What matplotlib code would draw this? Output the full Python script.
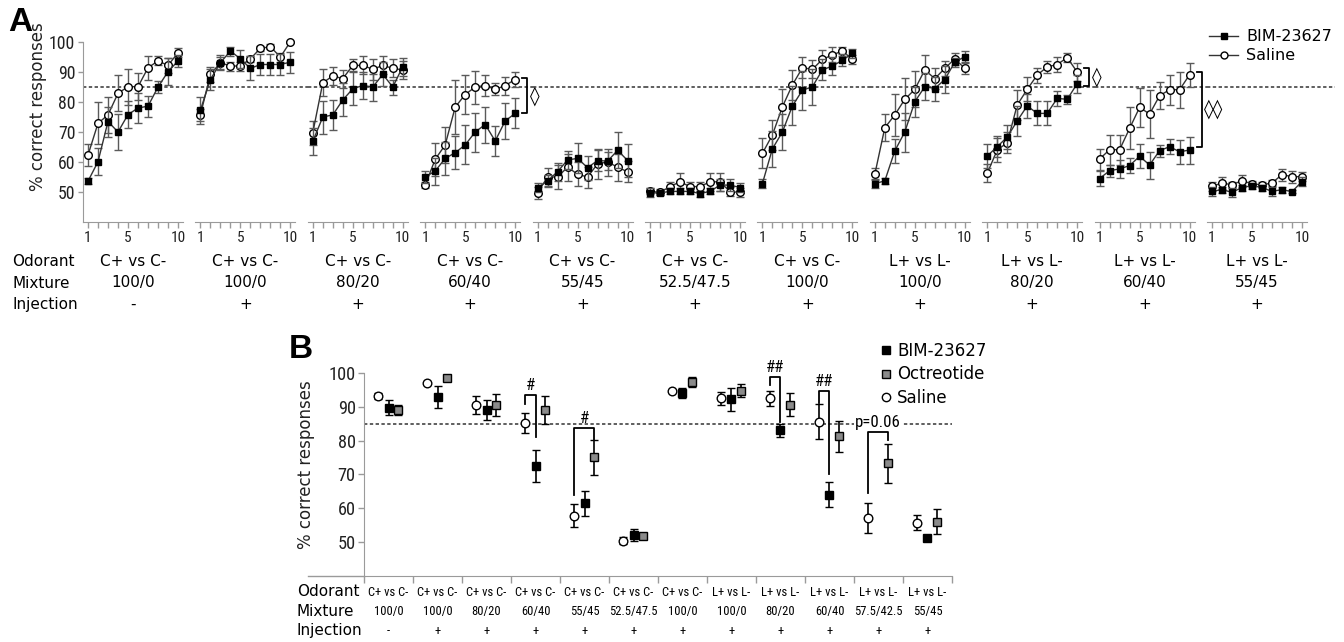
import os
import numpy as np
import matplotlib
matplotlib.use("Agg")
import matplotlib.pyplot as plt
import matplotlib.collections as mcoll
from matplotlib import font_manager
from matplotlib.font_manager import FontProperties
from matplotlib.lines import Line2D

# ---------------------------------------------------------------- data: panel A
sessions = [1, 2, 3, 4, 5, 6, 7, 8, 9, 10]
a_odorant = ["C+ vs C-"] * 7 + ["L+ vs L-"] * 4
a_mixture = ["100/0", "100/0", "80/20", "60/40", "55/45", "52.5/47.5",
             "100/0", "100/0", "80/20", "60/40", "55/45"]
a_injection = ["-", "+", "+", "+", "+", "+", "+", "+", "+", "+", "+"]

sal_1 = [62.2, 72.8, 75.6, 82.8, 85.0, 85.0, 91.3, 93.6, 92.1, 96.3]
sal_1e = [3.7, 7.0, 6.0, 6.0, 6.0, 4.5, 4.0, 1.5, 2.5, 1.5]
bim_1 = [53.5, 60.0, 73.4, 69.9, 75.7, 77.9, 78.5, 84.9, 90.0, 93.6]
bim_1e = [1.0, 4.5, 5.0, 6.0, 4.5, 5.0, 3.5, 2.0, 4.5, 2.0]

sal_2 = [75.6, 89.1, 93.0, 91.9, 91.9, 94.3, 97.8, 98.3, 94.9, 100.0]
sal_2e = [2.0, 2.5, 2.0, 1.5, 1.5, 1.0, 0.8, 0.8, 1.5, 0.3]
bim_2 = [77.2, 87.4, 93.0, 96.9, 94.3, 91.1, 92.4, 92.4, 92.4, 93.2]
bim_2e = [4.5, 3.5, 2.5, 1.5, 3.0, 4.0, 3.5, 3.5, 3.5, 3.5]

sal_3 = [69.7, 86.3, 88.6, 87.7, 92.1, 92.1, 90.8, 92.1, 91.1, 90.6]
sal_3e = [4.0, 4.5, 3.0, 3.0, 2.0, 3.0, 3.5, 3.0, 3.0, 3.0]
bim_3 = [66.8, 74.9, 75.6, 80.6, 84.3, 85.4, 84.9, 89.1, 84.9, 91.7]
bim_3e = [4.5, 5.5, 5.0, 5.5, 5.5, 4.5, 4.5, 4.0, 2.5, 3.0]

sal_4 = [52.2, 60.8, 65.6, 78.2, 82.4, 84.9, 85.4, 84.1, 85.4, 87.4]
sal_4e = [1.0, 5.5, 6.0, 9.0, 6.5, 5.5, 3.5, 2.0, 3.0, 2.5]
bim_4 = [54.9, 56.9, 61.1, 63.0, 65.6, 69.9, 72.4, 66.9, 73.6, 76.1]
bim_4e = [2.0, 4.5, 5.5, 5.5, 6.5, 6.5, 6.0, 5.0, 6.0, 5.0]

sal_5 = [49.7, 54.9, 54.9, 58.2, 55.8, 54.9, 59.3, 59.9, 58.2, 56.6]
sal_5e = [2.0, 3.0, 4.0, 4.5, 4.0, 3.5, 5.0, 4.5, 4.5, 3.5]
bim_5 = [51.3, 53.6, 56.7, 60.6, 61.1, 58.0, 60.4, 60.2, 63.8, 60.4]
bim_5e = [1.5, 2.0, 3.0, 3.0, 5.0, 4.0, 3.5, 3.0, 6.0, 5.5]

sal_6 = [50.1, 49.8, 51.7, 53.3, 51.7, 51.7, 53.3, 53.3, 50.0, 49.8]
sal_6e = [1.0, 1.0, 1.5, 3.0, 1.5, 1.5, 3.0, 3.0, 1.5, 1.5]
bim_6 = [49.6, 49.6, 50.1, 50.1, 50.1, 49.4, 50.1, 52.2, 52.2, 51.4]
bim_6e = [1.5, 0.8, 1.0, 1.0, 1.0, 1.0, 1.0, 2.0, 2.0, 1.5]

sal_7 = [62.8, 68.9, 78.3, 85.6, 91.3, 90.8, 94.1, 95.6, 96.9, 94.1]
sal_7e = [5.0, 5.0, 6.0, 5.0, 3.5, 3.0, 3.0, 2.5, 1.5, 1.5]
bim_7 = [52.7, 64.3, 69.9, 78.6, 83.8, 85.0, 90.6, 91.9, 93.8, 96.1]
bim_7e = [1.5, 6.0, 6.0, 6.5, 6.5, 6.0, 3.5, 3.0, 2.0, 1.5]

sal_8 = [55.8, 71.3, 75.6, 80.8, 84.1, 90.6, 87.7, 91.1, 94.3, 91.1]
sal_8e = [2.0, 4.5, 7.0, 7.0, 6.0, 5.0, 3.5, 2.5, 2.0, 2.0]
bim_8 = [52.7, 53.6, 63.6, 69.9, 80.0, 85.0, 84.4, 87.4, 93.2, 95.0]
bim_8e = [1.5, 1.0, 4.0, 6.5, 5.0, 4.5, 4.0, 4.5, 1.5, 2.0]

sal_9 = [56.1, 63.9, 66.3, 78.9, 84.1, 88.9, 91.6, 92.4, 94.7, 89.9]
sal_9e = [3.0, 4.0, 3.5, 5.0, 4.0, 2.5, 2.0, 2.5, 1.5, 3.0]
bim_9 = [61.9, 65.0, 68.2, 73.6, 78.6, 76.1, 76.1, 81.1, 80.8, 86.0]
bim_9e = [4.0, 3.5, 4.0, 5.0, 4.0, 4.0, 4.0, 2.5, 1.5, 3.0]

sal_10 = [60.9, 64.0, 64.0, 71.1, 78.1, 75.9, 82.0, 84.0, 84.0, 89.0]
sal_10e = [3.5, 5.0, 5.0, 7.0, 6.5, 8.0, 4.5, 5.0, 6.0, 4.0]
bim_10 = [54.4, 57.0, 57.6, 58.7, 61.8, 58.9, 63.7, 65.0, 63.3, 63.9]
bim_10e = [2.5, 2.0, 3.0, 2.5, 4.0, 4.5, 2.0, 2.5, 4.0, 4.5]

sal_11 = [51.8, 52.9, 52.3, 53.7, 52.6, 52.3, 52.9, 55.7, 55.0, 55.0]
sal_11e = [1.5, 2.0, 1.0, 2.0, 1.0, 1.0, 1.0, 2.0, 2.0, 1.5]
bim_11 = [50.1, 50.7, 49.8, 51.4, 52.0, 51.4, 50.1, 50.7, 50.0, 53.4]
bim_11e = [1.5, 1.0, 1.5, 1.0, 1.0, 1.0, 1.5, 1.0, 0.5, 1.5]

a_sal = [sal_1, sal_2, sal_3, sal_4, sal_5, sal_6, sal_7, sal_8, sal_9, sal_10, sal_11]
a_sal_err = [sal_1e, sal_2e, sal_3e, sal_4e, sal_5e, sal_6e, sal_7e, sal_8e, sal_9e, sal_10e, sal_11e]
a_bim = [bim_1, bim_2, bim_3, bim_4, bim_5, bim_6, bim_7, bim_8, bim_9, bim_10, bim_11]
a_bim_err = [bim_1e, bim_2e, bim_3e, bim_4e, bim_5e, bim_6e, bim_7e, bim_8e, bim_9e, bim_10e, bim_11e]

# significance brackets in A: block index -> (upper value, lower value, label)
a_sig = {3: (87.8, 76.1, "\u25CA"), 8: (91.3, 85.2, "\u25CA"), 9: (89.8, 65.0, "\u25CA\u25CA")}

CRITERION = 85
y_ticks = [50, 60, 70, 80, 90, 100]

# ---------------------------------------------------------------- data: panel B
b_odorant = ["C+ vs C-"] * 7 + ["L+ vs L-"] * 5
b_mixture = ["100/0", "100/0", "80/20", "60/40", "55/45", "52.5/47.5", "100/0",
             "100/0", "80/20", "60/40", "57.5/42.5", "55/45"]
b_injection = ["-"] + ["+"] * 11

b_sal = [93.1, 96.9, 90.5, 85.1, 57.8, 50.4, 94.7, 92.4, 92.4, 85.5, 57.1, 55.8]
b_sal_err = [1.0, 0.0, 2.6, 3.0, 3.4, 1.0, 0.0, 2.0, 2.1, 5.2, 4.4, 2.1]
b_bim = [89.7, 92.9, 89.0, 72.5, 61.5, 52.2, 94.1, 92.2, 83.0, 64.0, np.nan, 51.3]
b_bim_err = [2.2, 3.3, 3.0, 4.8, 3.7, 1.8, 1.5, 3.4, 1.9, 3.7, np.nan, 0.0]
b_oct = [89.0, 98.5, 90.4, 89.0, 75.0, 51.7, 97.3, 94.7, 90.6, 81.2, 73.3, 56.1]
b_oct_err = [1.5, 0.0, 3.2, 4.0, 5.2, 0.0, 1.5, 2.0, 3.5, 4.5, 5.8, 3.8]

# B comparisons: (group, left series, right series, top, left end, right end, label)
b_sig = [(3, "sal", "bim", 93.4, 90.8, 81.1, "#"),
         (4, "sal", "oct", 83.8, 64.0, 80.2, "#"),
         (8, "sal", "bim", 98.7, 96.4, 85.5, "##"),
         (9, "sal", "bim", 94.7, 91.1, 70.1, "##"),
         (10, "sal", "oct", 82.5, 64.4, 80.2, "p=0.06")]

# ---------------------------------------------------------------- fonts
def _narrow_path():
    prefs = ["liberationsansnarrow-regular", "robotocondensed-regular",
             "notosans-condensed.", "notosanscondensed-regular", "dejavusanscondensed."]
    files = {}
    for f in font_manager.fontManager.ttflist:
        files[os.path.basename(f.fname).lower()] = f.fname
    for pref in prefs:
        for name in sorted(files):
            if name.startswith(pref):
                return files[name]
    return None


NARROW = _narrow_path()


def narrow_fp(size=10):
    fp = FontProperties(fname=NARROW) if NARROW else FontProperties(family="Roboto")
    fp.set_size(size)
    return fp


plt.rcParams["font.family"] = ["DejaVu Sans"]

# ---------------------------------------------------------------- layout
W, H = 1344, 642
fig = plt.figure(figsize=(W / 100, H / 100), dpi=100)
_renderer = fig.canvas.get_renderer()


def fitted(constraints, max_size):
    """narrow font; largest size at which every text fits its pixel width"""
    sizes = [max_size]
    for texts, width_px in constraints:
        for t in texts:
            tx = fig.text(0, 0, t, fontproperties=narrow_fp(10))
            w = tx.get_window_extent(_renderer).width
            tx.remove()
            sizes.append(10 * width_px / w)
    return narrow_fp(min(sizes))


def rect(l, t, w, h):
    return [l / W, 1 - (t + h) / H, w / W, h / H]


GRAY = "#9a9a9a"
DARK = "#222222"
A_LEFT, A_TOP, A_W, A_H, A_STEP = 83, 41.7, 100, 180, 112.4
ROW_FS = 11

FP_YTICK = fitted([(["100"], 26)], 16)
FP_XTICK = fitted([(["10"], 15)], 15)
FP_BGROUP = fitted([(["C+ vs C-", "L+ vs L-"], 42), (["52.5/47.5", "57.5/42.5"], 48)], 13)
FP_SIG = fitted([(["p=0.06"], 45)], 14)

fig.text(8 / W, 1 - 7 / H, "A", fontsize=24, fontweight="bold", family="Liberation Sans",
         ha="left", va="top")

for k in range(11):
    ax = fig.add_axes(rect(A_LEFT + k * A_STEP, A_TOP, A_W, A_H), facecolor="none")
    ax.set_xlim(0.5, 10.5)
    ax.set_ylim(40, 100)
    for s in ("top", "right"):
        ax.spines[s].set_visible(False)
    ax.spines["bottom"].set_color(GRAY)
    ax.set_xticks(sessions)
    ax.set_xticklabels([str(s) if s in (1, 5, 10) else "" for s in sessions],
                       fontproperties=FP_XTICK)
    ax.tick_params(axis="x", colors=GRAY, labelcolor=DARK, length=4, width=1, pad=3)
    if k == 0:
        ax.spines["left"].set_color(GRAY)
        ax.set_yticks(y_ticks)
        ax.set_yticklabels([str(v) for v in y_ticks], fontproperties=FP_YTICK)
        ax.tick_params(axis="y", colors=GRAY, labelcolor=DARK, length=3.5, width=1, pad=2)
        ax.set_ylabel("% correct responses", fontsize=12, color=DARK)
        ax.yaxis.set_label_coords(-0.36, 0.64)
    else:
        ax.spines["left"].set_visible(False)
        ax.set_yticks([])

    ext = 1 + (A_STEP - A_W) / A_W if k < 10 else 1.28
    ax.axhline(CRITERION, xmin=0, xmax=ext, color="#333333", lw=1.1,
               ls=(0, (2.2, 1.6)), clip_on=False, zorder=1)

    ax.errorbar(sessions, a_sal[k], yerr=a_sal_err[k], fmt="-o", color="#333333", lw=1,
                ms=5.5, mfc="white", mec="black", mew=1, ecolor="#5a5a5a",
                elinewidth=1, capsize=3, capthick=1, zorder=3)
    ax.errorbar(sessions, a_bim[k], yerr=a_bim_err[k], fmt="-s", color="#333333", lw=1,
                ms=5, mfc="black", mec="black", mew=1, ecolor="#5a5a5a",
                elinewidth=1, capsize=3, capthick=1, zorder=4)
    for ch in ax.get_children():
        if isinstance(ch, (Line2D, mcoll.LineCollection)):
            ch.set_clip_on(False)

    if k in a_sig:
        top, bot, lab = a_sig[k]
        ax.plot([10.7, 11.2, 11.2, 10.7], [top, top, bot, bot], color="black", lw=1.3,
                clip_on=False)
        ax.text(11.45, (top + bot) / 2, lab, ha="left", va="center", fontsize=14,
                family="DejaVu Sans", clip_on=False, zorder=6)

    cx = (A_LEFT + k * A_STEP + A_W / 2) / W
    fig.text(cx, 1 - 262 / H, a_odorant[k], ha="center", va="center", fontsize=ROW_FS)
    fig.text(cx, 1 - 283 / H, a_mixture[k], ha="center", va="center", fontsize=ROW_FS)
    fig.text(cx, 1 - 304 / H, a_injection[k], ha="center", va="center", fontsize=ROW_FS)

for y, lab in zip((262, 283, 304), ("Odorant", "Mixture", "Injection")):
    fig.text(12 / W, 1 - y / H, lab, ha="left", va="center", fontsize=ROW_FS)

a_handles = [
    Line2D([], [], color="#333333", lw=1, marker="s", ms=5, mfc="black", mec="black"),
    Line2D([], [], color="#333333", lw=1, marker="o", ms=5, mfc="white", mec="black"),
]
fig.legend(a_handles, ["BIM-23627", "Saline"], loc="upper left",
           bbox_to_anchor=(1198 / W, 1 - 18 / H), frameon=False, fontsize=11.5,
           handlelength=1.8, handletextpad=0.5, labelspacing=0.25, borderpad=0.2)

# ---------------------------------------------------------------- panel B
B_LEFT, B_TOP, B_W, B_H = 364, 372.7, 588, 203.4
axb = fig.add_axes(rect(B_LEFT, B_TOP, B_W, B_H), facecolor="none")
ng = len(b_sal)
gx = np.arange(ng)
axb.set_xlim(-0.5, ng - 0.5)
axb.set_ylim(40, 100)
for s in ("top", "right"):
    axb.spines[s].set_visible(False)
axb.spines["left"].set_color(GRAY)
axb.spines["bottom"].set_color(GRAY)
axb.plot([-1.65, -0.5], [40, 40], color=GRAY, lw=1, clip_on=False)
axb.set_xticks(np.arange(-0.5, ng, 1.0))
axb.set_xticklabels([])
axb.tick_params(axis="x", colors=GRAY, length=5, width=1)
axb.set_yticks(y_ticks)
axb.set_yticklabels([str(v) for v in y_ticks], fontproperties=fitted([(["100"], 27)], 16))
axb.tick_params(axis="y", colors=GRAY, labelcolor=DARK, length=4, width=1, pad=2)
axb.set_ylabel("% correct responses", fontsize=12, color=DARK)
axb.yaxis.set_label_coords(-0.083, 0.55)
axb.axhline(CRITERION, color="#333333", lw=1.1, ls=(0, (2.2, 1.6)), zorder=1)

OFF = {"sal": -0.22, "bim": 0.0, "oct": 0.2}
eb = dict(ls="none", ecolor="black", elinewidth=1.2, capsize=3, capthick=1.2, zorder=3)
axb.errorbar(gx + OFF["sal"], b_sal, yerr=b_sal_err, marker="o", ms=6.2, mfc="white",
             mec="black", mew=1, **eb)
axb.errorbar(gx + OFF["bim"], b_bim, yerr=b_bim_err, marker="s", ms=5.8, mfc="black",
             mec="black", mew=1, **eb)
axb.errorbar(gx + OFF["oct"], b_oct, yerr=b_oct_err, marker="s", ms=5.8, mfc="#8a8a8a",
             mec="black", mew=1, **eb)
for ch in axb.get_children():
    if isinstance(ch, (Line2D, mcoll.LineCollection)):
        ch.set_clip_on(False)

for g, s1, s2, top, e1, e2, lab in b_sig:
    x1, x2 = g + OFF[s1], g + OFF[s2]
    axb.plot([x1, x1, x2, x2], [e1, top, top, e2], color="black", lw=1.3, clip_on=False)
    axb.text((x1 + x2) / 2, top + 2.7, lab, ha="center", va="center",
             fontproperties=FP_SIG, clip_on=False,
             bbox=dict(fc="white", ec="none", pad=0.5) if lab.startswith("p") else None)

for i in range(ng):
    cx = (B_LEFT + (i + 0.5) * B_W / ng) / W
    fig.text(cx, 1 - 592 / H, b_odorant[i], ha="center", va="center", fontproperties=FP_BGROUP)
    fig.text(cx, 1 - 611 / H, b_mixture[i], ha="center", va="center", fontproperties=FP_BGROUP)
    fig.text(cx, 1 - 631 / H, b_injection[i], ha="center", va="center", fontproperties=FP_BGROUP)

for y, lab in zip((592, 611, 631), ("Odorant", "Mixture", "Injection")):
    fig.text(297 / W, 1 - y / H, lab, ha="left", va="center", fontsize=11)

fig.text(289 / W, 1 - 334 / H, "B", fontsize=24, fontweight="bold", family="Liberation Sans",
         ha="left", va="top")

b_handles = [
    Line2D([], [], ls="none", marker="s", ms=6, mfc="black", mec="black"),
    Line2D([], [], ls="none", marker="s", ms=6, mfc="#8a8a8a", mec="black"),
    Line2D([], [], ls="none", marker="o", ms=6, mfc="white", mec="black"),
]
fig.legend(b_handles, ["BIM-23627", "Octreotide", "Saline"], loc="upper left",
           bbox_to_anchor=(868 / W, 1 - 330 / H), frameon=False, fontsize=12,
           handlelength=0.7, handletextpad=0.35, labelspacing=0.35, borderpad=0.2)

fig.savefig("out.png", dpi=100)
